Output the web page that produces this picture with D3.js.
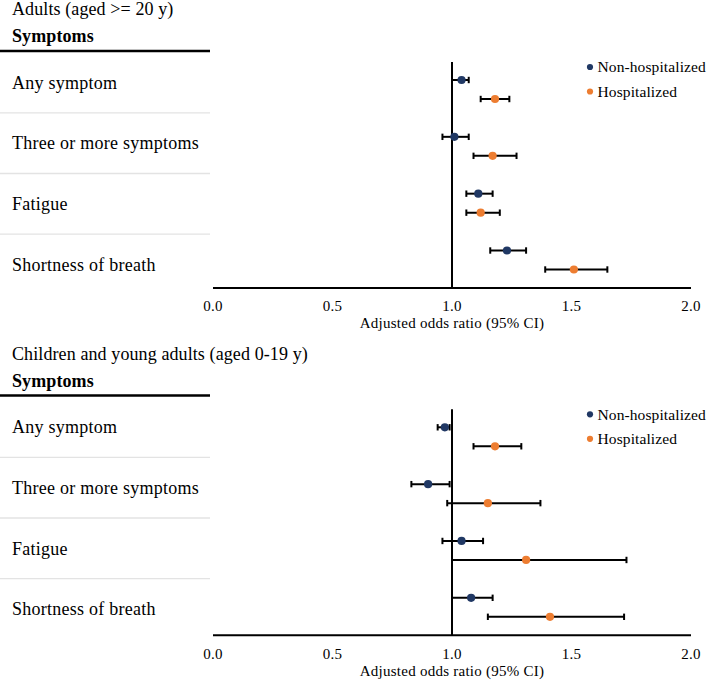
<!DOCTYPE html>
<html>
<head>
<meta charset="utf-8">
<script src="https://cdn.jsdelivr.net/npm/d3@7"></script>
<style>
  html, body { margin: 0; padding: 0; background: #fff; }
  svg { display: block; }
</style>
</head>
<body>
<svg id="chart" width="708" height="686"></svg>
<script>
// ---- data ----
const categories = ["Any symptom", "Three or more symptoms", "Fatigue", "Shortness of breath"];
const seriesNames = ["Non-hospitalized", "Hospitalized"];
const tickValues = [0, 0.5, 1.0, 1.5, 2.0];
const panelTitles = ["Adults (aged >= 20 y)", "Children and young adults (aged 0-19 y)"];

const adultNonHospOR = [1.04, 1.01, 1.11, 1.23];
const adultNonHospLo = [1.00, 0.96, 1.06, 1.16];
const adultNonHospHi = [1.07, 1.07, 1.17, 1.31];
const adultHospOR    = [1.18, 1.17, 1.12, 1.51];
const adultHospLo    = [1.12, 1.09, 1.06, 1.39];
const adultHospHi    = [1.24, 1.27, 1.20, 1.65];

const childNonHospOR = [0.97, 0.90, 1.04, 1.08];
const childNonHospLo = [0.94, 0.83, 0.96, 1.00];
const childNonHospHi = [0.99, 0.99, 1.13, 1.17];
const childHospOR    = [1.18, 1.15, 1.31, 1.41];
const childHospLo    = [1.09, 0.98, 1.00, 1.15];
const childHospHi    = [1.29, 1.37, 1.73, 1.72];

const colors = ["#203864", "#ED7D31"];

// ---- drawing ----
const FONT = "'Liberation Serif', 'Times New Roman', Times, serif";
const svg = d3.select("#chart");
const x = d3.scaleLinear().domain([0, 2]).range([213, 691]);

function txt(sel, size, ls) {
  return sel.attr("font-family", FONT).style("font-family", FONT)
    .style("font-size", size + "px").style("letter-spacing", (ls || 0) + "px")
    .attr("fill", "#000");
}

function buildSeries(or, lo, hi) {
  return categories.map((c, i) => ({ cat: c, or: or[i], lo: lo[i], hi: hi[i] }));
}

const panels = [
  { title: panelTitles[0], textOff: 0, plotOff: 0,
    series: [buildSeries(adultNonHospOR, adultNonHospLo, adultNonHospHi),
             buildSeries(adultHospOR, adultHospLo, adultHospHi)] },
  { title: panelTitles[1], textOff: 344.5, plotOff: 347.3,
    series: [buildSeries(childNonHospOR, childNonHospLo, childNonHospHi),
             buildSeries(childHospOR, childHospLo, childHospHi)] }
];

panels.forEach(p => {
  const gt = svg.append("g").attr("transform", `translate(0,${p.textOff})`);
  const gp = svg.append("g").attr("transform", `translate(0,${p.plotOff})`);

  // title
  txt(gt.append("text").attr("x", 12).attr("y", 9).attr("dy", "0.35em"), 18, 0.1).text(p.title);
  // header
  txt(gt.append("text").attr("x", 12).attr("y", 36).attr("dy", "0.35em"), 18, 0.1)
    .style("font-weight", "bold").text("Symptoms");
  gt.append("line").attr("x1", 0).attr("x2", 210).attr("y1", 51).attr("y2", 51)
    .attr("stroke", "#000").attr("stroke-width", 2.6);

  // row labels
  const yLab = d3.scalePoint().domain(categories).range([82.5, 264.5]);
  const step = yLab.step();
  txt(gt.selectAll("text.row").data(categories).join("text").attr("class", "row")
    .attr("x", 12).attr("y", d => yLab(d)).attr("dy", "0.35em"), 18, 0.25).text(d => d);
  gt.selectAll("line.sep").data(categories.slice(0, -1)).join("line").attr("class", "sep")
    .attr("x1", 0).attr("x2", 210)
    .attr("y1", d => yLab(d) + step / 2).attr("y2", d => yLab(d) + step / 2)
    .attr("stroke", "#e3e3e3").attr("stroke-width", 1.3);

  // axis
  const axisY = 288;
  gp.append("line").attr("x1", x(0)).attr("x2", x(2)).attr("y1", axisY).attr("y2", axisY)
    .attr("stroke", "#000").attr("stroke-width", 2);
  txt(gp.selectAll("text.tick").data(tickValues).join("text").attr("class", "tick")
    .attr("x", d => x(d)).attr("y", 306).attr("dy", "0.35em").attr("text-anchor", "middle"), 15, 0.3)
    .text(d => d3.format(".1f")(d));
  txt(gp.append("text").attr("x", x(1)).attr("y", 323).attr("dy", "0.35em").attr("text-anchor", "middle"), 15, 0.25)
    .text("Adjusted odds ratio (95% CI)");

  // reference line
  gp.append("line").attr("x1", x(1)).attr("x2", x(1)).attr("y1", 62).attr("y2", axisY)
    .attr("stroke", "#000").attr("stroke-width", 2);

  // points
  const yPt = d3.scalePoint().domain(categories).range([80, 250.5]);
  const offs = [0, 19];
  p.series.forEach((s, si) => {
    const g = gp.append("g");
    const rows = g.selectAll("g").data(s).join("g")
      .attr("transform", d => `translate(0,${yPt(d.cat) + offs[si]})`);
    rows.append("line").attr("x1", d => x(d.lo)).attr("x2", d => x(d.hi))
      .attr("stroke", "#000").attr("stroke-width", 2);
    rows.append("line").attr("x1", d => x(d.lo)).attr("x2", d => x(d.lo))
      .attr("y1", -3.2).attr("y2", 3.2).attr("stroke", "#000").attr("stroke-width", 2);
    rows.append("line").attr("x1", d => x(d.hi)).attr("x2", d => x(d.hi))
      .attr("y1", -3.2).attr("y2", 3.2).attr("stroke", "#000").attr("stroke-width", 2);
    rows.append("circle").attr("cx", d => x(d.or)).attr("r", 4.1).attr("fill", colors[si]);
  });

  // legend
  const lg = gp.append("g");
  seriesNames.forEach((n, i) => {
    const ly = 67 + i * 24.5;
    lg.append("circle").attr("cx", 590).attr("cy", ly).attr("r", 3.1).attr("fill", colors[i]);
    txt(lg.append("text").attr("x", 597.5).attr("y", ly).attr("dy", "0.35em"), 15.5, 0.1).text(n);
  });
});
</script>
</body>
</html>
